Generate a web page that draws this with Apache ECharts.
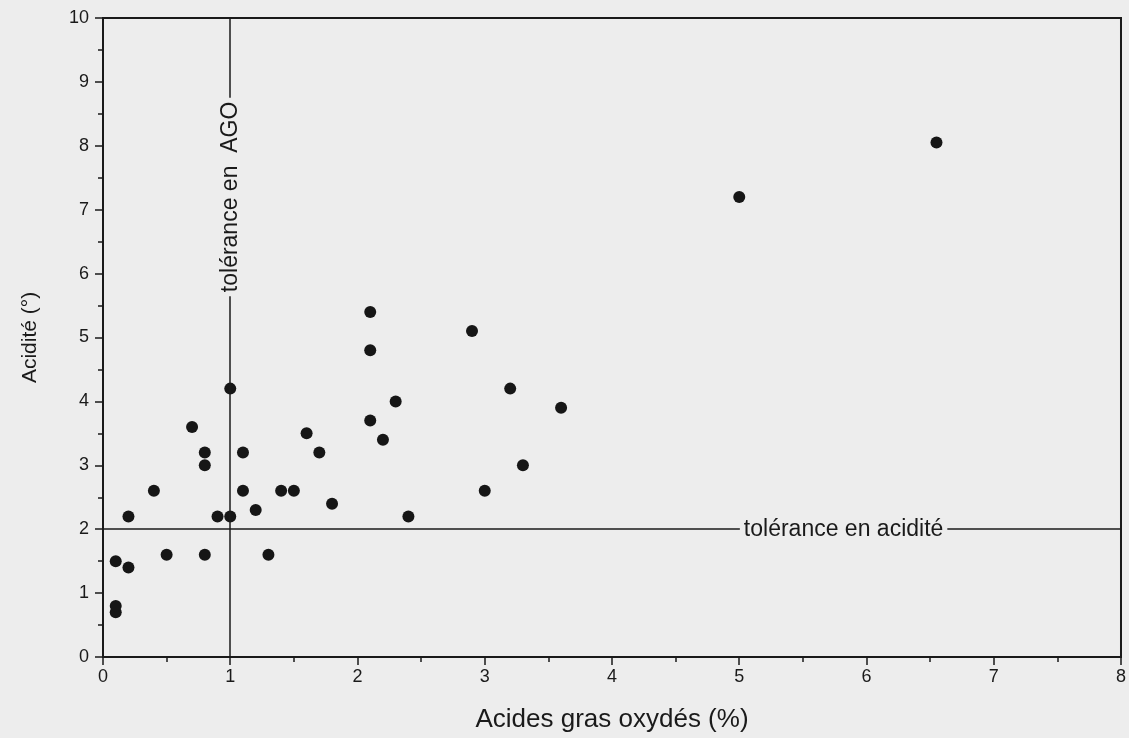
<!DOCTYPE html>
<html>
<head>
<meta charset="utf-8">
<script src="https://cdn.jsdelivr.net/npm/echarts@6/dist/echarts.min.js"></script>
<style>
  html, body { margin: 0; padding: 0; background: #ededed; }
  #main { width: 1129px; height: 738px; }
</style>
</head>
<body>
<div id="main"></div>
<script>
// Acides gras oxydés (%) / Acidité (°)
var agoValues   = [0.1, 0.1, 0.1, 0.2, 0.2, 0.4, 0.5, 0.7, 0.8, 0.8, 0.8, 0.9, 1.0, 1.0, 1.1, 1.1, 1.2, 1.3,
                   1.4, 1.5, 1.6, 1.7, 1.8, 2.1, 2.1, 2.1, 2.2, 2.3, 2.4, 2.9, 3.0, 3.2, 3.3, 3.6, 5.0, 6.55];
var acidValues  = [0.7, 0.8, 1.5, 1.4, 2.2, 2.6, 1.6, 3.6, 3.2, 3.0, 1.6, 2.2, 2.2, 4.2, 3.2, 2.6, 2.3, 1.6,
                   2.6, 2.6, 3.5, 3.2, 2.4, 5.4, 4.8, 3.7, 3.4, 4.0, 2.2, 5.1, 2.6, 4.2, 3.0, 3.9, 7.2, 8.05];

// seuils de tolérance
var toleranceAGO = 1;
var toleranceAcidite = 2;

var xTicks = ["0", "1", "2", "3", "4", "5", "6", "7", "8"];
var yTicks = ["0", "1", "2", "3", "4", "5", "6", "7", "8", "9", "10"];

var FONT = "'Liberation Sans', Arial, Helvetica, sans-serif";
var INK = "#1a1a1a";
var BG = "#ededed";

var points = [];
for (var i = 0; i < agoValues.length; i++) {
  points.push([agoValues[i], acidValues[i]]);
}

var myChart = echarts.init(document.getElementById('main'), null, { renderer: 'canvas' });

var option = {
  backgroundColor: BG,
  animation: false,
  grid: {
    left: 103, right: 4, top: 18, bottom: 81,
    show: true,
    borderColor: INK,
    borderWidth: 2,
    backgroundColor: 'transparent'
  },
  xAxis: {
    type: 'value',
    min: 0, max: 8, interval: 1,
    name: 'Acides gras oxydés (%)',
    nameLocation: 'middle',
    nameGap: 50,
    nameTextStyle: { fontFamily: FONT, fontSize: 26, color: INK },
    axisLine: { show: true, lineStyle: { color: INK, width: 2 } },
    axisTick: { show: true, length: 8, lineStyle: { color: INK, width: 1.5 } },
    minorTick: { show: true, splitNumber: 2, length: 5, lineStyle: { color: INK, width: 1.5 } },
    splitLine: { show: false },
    axisLabel: {
      fontFamily: FONT, fontSize: 18, color: INK, margin: 11,
      formatter: function (v) { return xTicks[Math.round(v)]; }
    }
  },
  yAxis: {
    type: 'value',
    min: 0, max: 10, interval: 1,
    name: 'Acidité (°)',
    nameLocation: 'middle',
    nameGap: 62,
    nameTextStyle: { fontFamily: FONT, fontSize: 21, color: INK },
    axisLine: { show: true, lineStyle: { color: INK, width: 2 } },
    axisTick: { show: true, length: 8, lineStyle: { color: INK, width: 1.5 } },
    minorTick: { show: true, splitNumber: 2, length: 5, lineStyle: { color: INK, width: 1.5 } },
    splitLine: { show: false },
    axisLabel: {
      fontFamily: FONT, fontSize: 18, color: INK, margin: 14,
      formatter: function (v) { return yTicks[Math.round(v)]; }
    }
  },
  series: [{
    type: 'scatter',
    data: points,
    symbol: 'circle',
    symbolSize: 12,
    itemStyle: { color: '#161616', opacity: 1 },
    markLine: {
      silent: true,
      symbol: 'none',
      label: { show: false },
      lineStyle: { color: INK, width: 1.5, type: 'solid' },
      data: [{ xAxis: toleranceAGO }, { yAxis: toleranceAcidite }]
    },
    markPoint: {
      silent: true,
      symbol: 'rect',
      symbolSize: 1,
      itemStyle: { color: 'rgba(0,0,0,0)' },
      label: {
        show: true,
        position: 'inside',
        fontFamily: FONT,
        fontSize: 23,
        color: INK,
        backgroundColor: BG,
        padding: [0, 4]
      },
      data: [
        { coord: [5.82, toleranceAcidite], label: { formatter: 'tolérance en acidité' } },
        { coord: [toleranceAGO, 7.2], label: { formatter: 'tolérance en  AGO', rotate: 90 } }
      ]
    }
  }]
};

myChart.setOption(option);
window.onresize = myChart.resize;
</script>
</body>
</html>
